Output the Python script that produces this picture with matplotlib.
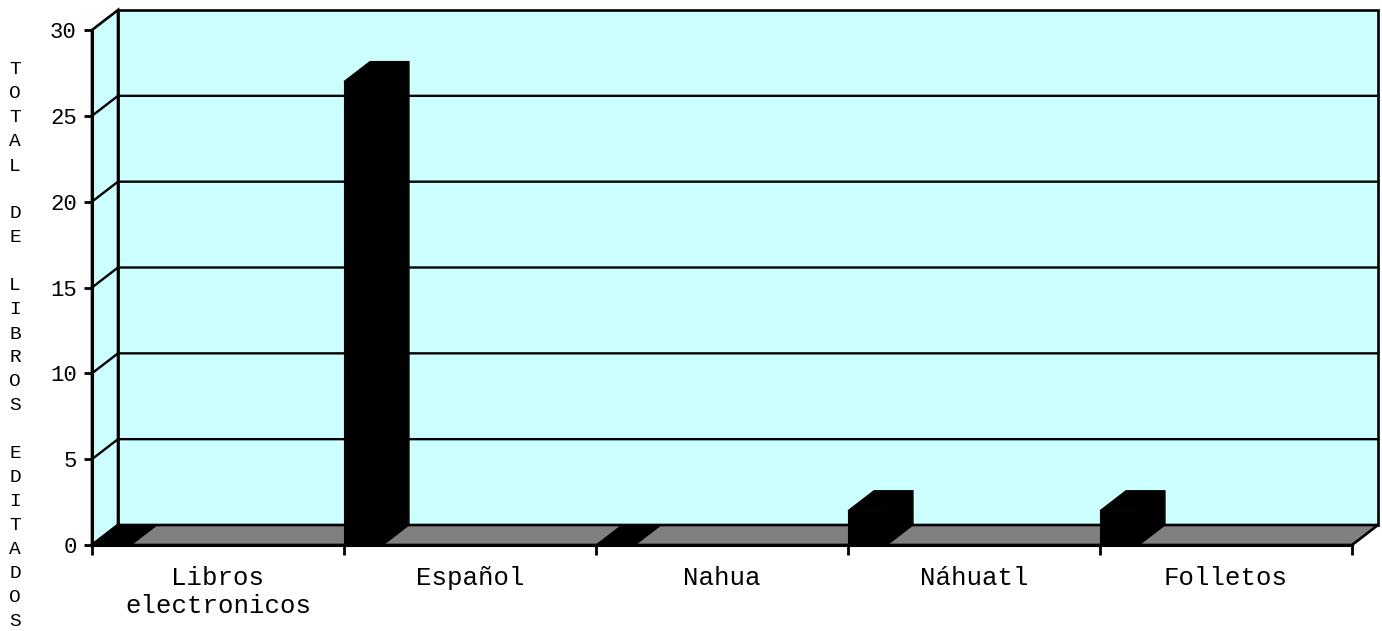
import matplotlib
matplotlib.use("Agg")
import matplotlib.pyplot as plt
from matplotlib.patches import Polygon

# Libros editados por tipo
categorias = ["Libros\nelectronicos", "Español", "Nahua", "Náhuatl", "Folletos"]
totales = [0, 27, 0, 2, 2]
y_ticks = [0, 5, 10, 15, 20, 25, 30]
titulo_y = "TOTAL DE LIBROS EDITADOS"

plt.rcParams['font.family'] = ['Liberation Mono', 'DejaVu Sans Mono']

W, H = 1382, 631
fig = plt.figure(figsize=(W / 100, H / 100), dpi=100)
ax = fig.add_axes([92 / W, (H - 545) / H, 1260 / W, 515 / H])
ax.set_facecolor("none")

n = len(categorias)
ymax = y_ticks[-1]
ax.set_xlim(0, n)
ax.set_ylim(0, ymax)

# profundidad del efecto 3D en unidades de datos
dx = 26 / 252
dy = 20 / (515 / ymax)

pared = "#CCFFFF"
piso = "#808080"
lw = 1.9

def poly(pts, fc, z, lw_=lw):
    ax.add_patch(Polygon(pts, closed=True, facecolor=fc, edgecolor="black",
                         linewidth=lw_, zorder=z, clip_on=False,
                         joinstyle="miter"))

# pared de fondo y pared lateral
poly([(dx, dy), (n + dx, dy), (n + dx, ymax + dy), (dx, ymax + dy)], pared, 1)
poly([(0, 0), (dx, dy), (dx, ymax + dy), (0, ymax)], pared, 1)

# lineas de cuadricula
for v in y_ticks[1:-1]:
    ax.plot([0, dx, n + dx], [v, v + dy, v + dy], color="black", lw=1.7,
            zorder=2, clip_on=False, solid_joinstyle="miter")

# piso
poly([(0, 0), (n, 0), (n + dx, dy), (dx, dy)], piso, 3)

# barras
w = 0.155
for i, val in enumerate(totales):
    x0 = i
    if val > 0:
        poly([(x0 + w, 0), (x0 + w + dx, dy), (x0 + w + dx, val + dy),
              (x0 + w, val)], "black", 4, 0.8)
        ax.add_patch(plt.Rectangle((x0, 0), w, val, facecolor="black",
                                   edgecolor="black", lw=0.8, zorder=4,
                                   clip_on=False))
    poly([(x0, val), (x0 + w, val), (x0 + w + dx, val + dy),
          (x0 + dx, val + dy)], "black", 4, 0.8)

# ejes
for s in ["top", "right"]:
    ax.spines[s].set_visible(False)
for s in ["left", "bottom"]:
    ax.spines[s].set_linewidth(2.2)
    ax.spines[s].set_zorder(5)

ax.set_yticks(y_ticks)
ax.set_yticklabels([str(v) for v in y_ticks], fontsize=16)
ax.tick_params(axis="y", length=6, width=2, pad=5)

ax.set_xticks(range(n + 1))
ax.set_xticklabels([])
ax.tick_params(axis="x", which="major", length=7, width=2)
ax.set_xticks([i + 0.5 for i in range(n)], minor=True)
ax.set_xticklabels(categorias, minor=True, fontsize=18.5, linespacing=1.2)
ax.tick_params(axis="x", which="minor", length=0, pad=15)

# titulo vertical letra por letra
for k, ch in enumerate(titulo_y):
    if ch != " ":
        fig.text(15 / W, 1 - (70 + 24 * k) / H, ch, fontsize=14,
                 ha="center", va="center")

fig.savefig("out.png", dpi=100)
